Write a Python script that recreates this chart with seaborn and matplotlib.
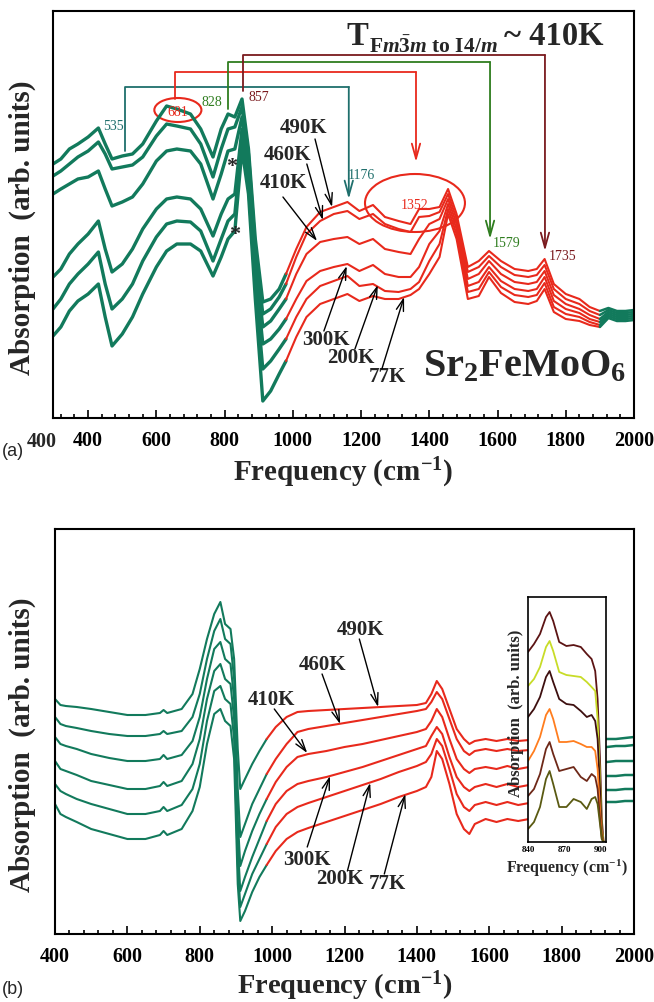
import numpy as np
import pandas as pd
import matplotlib
matplotlib.use("Agg")
import matplotlib.pyplot as plt
import matplotlib.transforms as mtrans
from matplotlib.patches import Ellipse
from matplotlib.ticker import FixedLocator, MultipleLocator
import seaborn as sns

# ---------------- data ----------------
temps = ["490K", "460K", "410K", "300K", "200K", "77K"]

# panel (a): frequency (cm-1) and absorption (arb. units) for each temperature
freq_a = [297, 320, 345, 370, 400, 430, 450, 470, 500, 530, 560, 600, 630, 660, 700, 730,
          766, 790, 810, 830, 851, 870, 890, 912, 935, 960, 980, 1010, 1040, 1080, 1120,
          1160, 1195, 1235, 1270, 1310, 1345, 1370, 1400, 1430, 1455, 1480, 1513, 1545,
          1575, 1610, 1650, 1690, 1715, 1738, 1765, 1800, 1840, 1870, 1900, 1925, 1950,
          1975, 2000]
abs_a_490K = [254, 259, 269, 274, 281, 290, 274, 259, 262, 264, 274, 297, 312, 309, 304, 289,
              261, 289, 304, 301, 319, 269, 179, 116, 119, 129, 144, 169, 191, 206, 211, 216,
              207, 213, 201, 197, 194, 209, 209, 211, 229, 204, 151, 157, 167, 157, 149, 147,
              149, 159, 134, 124, 119, 111, 107, 110, 107, 107, 108]
abs_a_460K = [242, 247, 254, 261, 267, 276, 264, 249, 251, 253, 261, 282, 294, 292, 289, 274,
              241, 269, 289, 291, 311, 264, 169, 104, 109, 121, 134, 161, 184, 197, 204, 207,
              199, 204, 194, 189, 186, 201, 202, 206, 224, 199, 146, 151, 162, 151, 143, 141,
              143, 153, 129, 119, 114, 107, 103, 108, 105, 105, 106]
abs_a_410K = [224, 229, 234, 239, 241, 247, 229, 212, 216, 221, 234, 257, 267, 269, 267, 254,
              219, 244, 267, 269, 301, 254, 159, 91, 97, 109, 119, 144, 164, 176, 179, 181,
              174, 179, 169, 166, 164, 179, 194, 199, 219, 194, 139, 144, 157, 144, 136, 134,
              136, 147, 123, 114, 109, 103, 99, 106, 103, 103, 104]
abs_a_300K = [141, 149, 164, 174, 184, 197, 169, 146, 154, 169, 189, 209, 219, 221, 219, 209,
              182, 204, 219, 224, 289, 244, 147, 74, 79, 89, 99, 119, 137, 147, 151, 154,
              147, 153, 144, 141, 141, 151, 174, 187, 214, 189, 132, 136, 151, 137, 129, 127,
              129, 141, 117, 109, 105, 99, 96, 104, 101, 101, 102]
abs_a_200K = [109, 119, 134, 144, 154, 166, 134, 109, 119, 134, 157, 181, 194, 197, 196, 187,
              157, 179, 197, 204, 279, 234, 134, 49, 57, 69, 79, 101, 119, 132, 137, 142,
              132, 134, 127, 126, 129, 136, 157, 174, 209, 184, 126, 129, 146, 131, 123, 121,
              123, 135, 111, 104, 101, 96, 93, 102, 99, 99, 100]
abs_a_77K = [82, 91, 107, 117, 124, 134, 101, 72, 84, 101, 124, 151, 167, 174, 174, 167,
             142, 161, 179, 187, 269, 224, 119, 17, 27, 44, 57, 81, 101, 114, 119, 124,
             117, 122, 119, 119, 123, 129, 144, 161, 204, 179, 119, 122, 141, 125, 116, 114,
             117, 129, 106, 99, 97, 93, 91, 100, 97, 97, 98]

# panel (b)
freq_b = [400, 415, 430, 460, 500, 550, 600, 650, 690, 700, 710, 750, 780, 800, 820, 840,
          857, 870, 885, 895, 905, 912, 925, 945, 965, 985, 1010, 1040, 1070, 1100, 1150,
          1200, 1250, 1300, 1350, 1400, 1425, 1440, 1455, 1470, 1490, 1510, 1530, 1545,
          1560, 1590, 1620, 1650, 1680, 1710, 1750, 1800, 1850, 1900, 1925, 1950, 1975, 2000]
abs_b_490K = [235, 229, 228, 227, 225, 222, 219, 219, 221, 224, 221, 225, 240, 265, 295, 320,
              332, 310, 305, 275, 185, 145, 155, 170, 183, 195, 207, 217, 222, 223, 224,
              225, 226, 227, 228, 229, 231, 240, 253, 245, 225, 205, 195, 190,
              193, 195, 193, 195, 193, 194, 194, 194, 195, 195, 195, 195, 196, 197]
abs_b_460K = [217, 210, 208, 206, 203, 200, 198, 198, 200, 203, 200, 203, 217, 240, 275, 303,
              315, 295, 290, 255, 145, 97, 110, 130, 145, 160, 175, 190, 202, 205, 208,
              211, 214, 217, 220, 223, 225, 232, 242, 235, 215, 195, 183, 179,
              183, 185, 183, 185, 183, 184, 185, 186, 187, 187, 187, 188, 188, 189]
abs_b_410K = [197, 190, 188, 185, 180, 176, 173, 173, 175, 179, 175, 179, 193, 217, 255, 285,
              292, 275, 270, 235, 115, 68, 83, 103, 120, 135, 152, 167, 177, 180, 183,
              187, 190, 194, 198, 202, 205, 213, 225, 217, 195, 175, 165, 161,
              165, 167, 165, 168, 165, 167, 169, 170, 171, 172, 172, 173, 173, 173]
abs_b_300K = [173, 165, 163, 159, 153, 149, 145, 145, 148, 152, 148, 153, 170, 195, 235, 263,
              270, 255, 250, 215, 90, 43, 57, 77, 95, 113, 130, 143, 150, 153, 157,
              162, 167, 173, 179, 185, 188, 198, 207, 200, 177, 157, 147, 143,
              147, 150, 147, 150, 147, 149, 151, 154, 156, 158, 158, 158, 159, 159]
abs_b_200K = [150, 143, 140, 135, 130, 125, 120, 120, 123, 127, 123, 129, 145, 170, 213, 243,
              248, 235, 230, 195, 70, 27, 40, 60, 75, 90, 107, 120, 127, 131, 137,
              143, 149, 155, 162, 168, 172, 180, 195, 188, 165, 140, 127, 123,
              129, 132, 129, 132, 129, 131, 135, 139, 142, 144, 144, 144, 145, 145]
abs_b_77K = [130, 120, 117, 112, 105, 100, 95, 95, 99, 103, 99, 105, 123, 147, 190, 220,
             225, 213, 208, 175, 50, 13, 23, 42, 57, 69, 83, 95, 102, 106, 112,
             118, 124, 130, 137, 143, 147, 157, 183, 175, 150, 120, 105, 100,
             110, 115, 112, 115, 113, 115, 120, 125, 129, 132, 132, 132, 133, 133]

# inset of panel (b): 840-905 cm-1
freq_in = [840, 845, 850, 855, 858, 861, 866, 872, 878, 884, 889, 893, 896, 898, 900, 901.5, 903]
abs_in_1 = [190, 198, 208, 225, 230, 221, 200, 196, 197, 195, 188, 183, 171, 143, 83, 23, 0]
abs_in_2 = [156, 163, 175, 195, 201, 191, 170, 167, 166, 165, 160, 155, 151, 123, 63, 13, 0]
abs_in_3 = [125, 133, 145, 165, 171, 160, 143, 138, 137, 131, 125, 127, 121, 103, 53, 8, 0]
abs_in_4 = [81, 91, 105, 127, 133, 123, 100, 100, 101, 98, 95, 95, 91, 73, 33, 5, 0]
abs_in_5 = [46, 53, 68, 93, 100, 88, 71, 73, 75, 65, 61, 68, 65, 53, 23, 3, 0]
abs_in_6 = [13, 20, 35, 63, 71, 58, 35, 35, 43, 40, 33, 43, 45, 38, 18, 3, 0]

xticks_main = [400, 600, 800, 1000, 1200, 1400, 1600, 1800, 2000]
xticks_inset = [840, 870, 900]

# mode assignment brackets (panel a)
bracket_colors = ["#1f6f6c", "#e8291c", "#2f7d1f", "#7a1a1e"]
bracket_left_f = [508, 654, 810, 854]
bracket_right_f = [1164, 1361, 1578, 1739]
bracket_level = [331, 346, 356, 363]
bracket_left_end = [267, 319, 309, 327]
bracket_tip = [219, 256, 179, 167]

peak_labels = ["535", "681", "828", "857", "1176", "1352", "1579", "1735"]
peak_label_f = [473, 663, 763, 899, 1202, 1358, 1627, 1792]
peak_label_y = [293, 307, 317, 322, 244, 214, 176, 163]
peak_label_color = [0, 1, 2, 3, 0, 1, 2, 3]

# ---------------- style ----------------
sns.set_theme(style="ticks")
plt.rcParams["font.family"] = ["Liberation Serif", "DejaVu Serif"]
plt.rcParams["font.weight"] = "bold"
plt.rcParams["mathtext.fontset"] = "custom"
plt.rcParams["mathtext.rm"] = "Liberation Serif:bold"
plt.rcParams["mathtext.it"] = "Liberation Serif:italic:bold"
plt.rcParams["mathtext.bf"] = "Liberation Serif:bold"
plt.rcParams["axes.linewidth"] = 1.5

GREEN = "#127a5c"
RED = "#e8291c"

fig = plt.figure(figsize=(6.54, 10.03), dpi=100)
W, H = 654, 1003
axA = fig.add_axes([53 / W, 1 - 419 / H, 581 / W, 407 / H])
axB = fig.add_axes([55 / W, 1 - 935 / H, 579 / W, 405 / H])


def long_df(freq, curves, names):
    return pd.DataFrame({
        "freq": np.tile(np.asarray(freq, float), len(curves)),
        "absorption": np.concatenate([np.asarray(c, float) for c in curves]),
        "T": np.repeat(names, len(freq)),
    })


def draw_segments(ax, df, segs):
    for lo, hi, color, lw in segs:
        sub = df[(df["freq"] >= lo) & (df["freq"] <= hi)]
        sns.lineplot(data=sub, x="freq", y="absorption", units="T", estimator=None,
                     color=color, lw=lw, ax=ax, legend=False, sort=False)


dfA = long_df(freq_a, [abs_a_490K, abs_a_460K, abs_a_410K, abs_a_300K, abs_a_200K, abs_a_77K], temps)
dfB = long_df(freq_b, [abs_b_490K, abs_b_460K, abs_b_410K, abs_b_300K, abs_b_200K, abs_b_77K], temps)

draw_segments(axA, dfA, [(0, 980, GREEN, 2.4), (980, 1900, RED, 1.5), (1900, 2100, GREEN, 1.8)])
draw_segments(axB, dfB, [(0, 985, GREEN, 1.5), (985, 1900, RED, 1.5), (1900, 2100, GREEN, 1.8)])


def style_main(ax, xlim, ylim):
    ax.set_xlim(*xlim)
    ax.set_ylim(*ylim)
    ax.set_yticks([])
    ax.xaxis.set_major_locator(FixedLocator(xticks_main))
    ax.set_xticklabels([str(t) for t in xticks_main])
    ax.xaxis.set_minor_locator(MultipleLocator(40))
    ax.tick_params(axis="x", which="both", direction="in", top=False, bottom=True,
                   colors="black", labelsize=14.5, pad=9, width=1.2)
    ax.tick_params(axis="x", which="major", length=6)
    ax.tick_params(axis="x", which="minor", length=3)
    for s in ax.spines.values():
        s.set_visible(True)
        s.set_color("black")
        s.set_linewidth(1.5)
    ax.set_xlabel(r"Frequency (cm$^{-1}$)", fontsize=21, fontweight="bold", va="top")
    ax.set_ylabel("Absorption  (arb. units)", fontsize=21, fontweight="bold", va="center")


style_main(axA, (297, 2000), (0, 407))
style_main(axB, (400, 2000), (0, 405))
axA.xaxis.set_label_coords(0.5, -0.090)
axA.yaxis.set_label_coords(-0.053, 0.47)
axB.xaxis.set_label_coords(0.5, -0.082)
axB.xaxis.label.set_fontsize(20.5)
axB.yaxis.set_label_coords(-0.057, 0.47)

# extra "400" tick label at the far left of panel (a), as in the original
axA.text(265, -0.057, "400", transform=mtrans.blended_transform_factory(axA.transData, axA.transAxes),
         ha="center", va="center", fontsize=14.5, fontweight="bold")

# ---------- panel (a) annotations ----------
for c, lf, rf, lev, le, tip in zip(bracket_colors, bracket_left_f, bracket_right_f,
                                    bracket_level, bracket_left_end, bracket_tip):
    axA.plot([lf, lf, rf], [le, lev, lev], color=c, lw=1.3)
    axA.annotate("", xy=(rf, tip), xytext=(rf, lev),
                 arrowprops=dict(arrowstyle="->,head_length=0.9,head_width=0.25",
                                 color=c, lw=1.3, shrinkA=0, shrinkB=0))
for t, f, y, ci in zip(peak_labels, peak_label_f, peak_label_y, peak_label_color):
    axA.text(f, y, t, color=bracket_colors[ci], fontsize=10, fontweight="normal",
             ha="center", va="center")
axA.add_patch(Ellipse((663, 308), 138, 24, fill=False, edgecolor=RED, lw=1.5))
axA.add_patch(Ellipse((1358, 215), 293, 58, fill=False, edgecolor=RED, lw=1.5))
axA.text(822, 252, "*", fontsize=16, ha="center", va="center")
axA.text(830, 184, "*", fontsize=16, ha="center", va="center")

arrow_kw = dict(arrowstyle="->,head_length=0.7,head_width=0.22", color="black", lw=1.0,
                shrinkA=0, shrinkB=0)
labA = [("490K", 1030, 291, 1065, 279, 1115, 211),
        ("460K", 983, 264, 1041, 254, 1088, 198),
        ("410K", 971, 236, 971, 221, 1071, 177),
        ("300K", 1097, 79, 1091, 87, 1158, 152),
        ("200K", 1170, 61, 1182, 69, 1249, 133),
        ("77K", 1276, 42, 1261, 49, 1326, 121)]
for t, tx, ty, ax0, ay0, ax1, ay1 in labA:
    axA.text(tx, ty, t, fontsize=15, ha="center", va="center")
    axA.annotate("", xy=(ax1, ay1), xytext=(ax0, ay0), arrowprops=arrow_kw)

axA.text(1680, 52, r"Sr$_2$FeMoO$_6$", fontsize=29, ha="center", va="center")
axA.text(1158, 374, "T", fontsize=23.5, ha="left", va="baseline")
axA.text(1222, 366, r"F$m\bar{3}m$ to I4/$m$", fontsize=15.5, ha="left", va="baseline")
axA.text(1912, 374, "~ 410K", fontsize=23.5, ha="right", va="baseline")

# ---------- panel (b) annotations ----------
labB = [("490K", 1243, 305, 1241, 295, 1293, 227),
        ("460K", 1138, 270, 1138, 260, 1188, 210),
        ("410K", 997, 235, 1006, 225, 1097, 181),
        ("300K", 1097, 75, 1097, 87, 1160, 158),
        ("200K", 1188, 56, 1208, 63, 1271, 151),
        ("77K", 1318, 51, 1310, 60, 1368, 140)]
for t, tx, ty, ax0, ay0, ax1, ay1 in labB:
    axB.text(tx, ty, t, fontsize=15, ha="center", va="center")
    axB.annotate("", xy=(ax1, ay1), xytext=(ax0, ay0), arrowprops=arrow_kw)

# ---------- inset ----------
inset = fig.add_axes([528 / W, 1 - 843 / H, 78 / W, 245 / H])
inset.set_facecolor("white")
inset_colors = ["#5c1414", "#c8dc28", "#3d0f0f", "#ff7d1e", "#6e2818", "#5a5a12"]
dfI = long_df(freq_in, [abs_in_1, abs_in_2, abs_in_3, abs_in_4, abs_in_5, abs_in_6], temps)
sns.lineplot(data=dfI, x="freq", y="absorption", hue="T", hue_order=temps,
             palette=inset_colors, estimator=None, legend=False, lw=1.3, ax=inset, sort=False)
inset.set_xlim(840, 905)
inset.set_ylim(0, 245)
inset.set_yticks([])
inset.set_xticks(xticks_inset)
inset.set_xticklabels([str(t) for t in xticks_inset])
inset.tick_params(axis="x", length=0, pad=2, labelsize=6.5, colors="black")
for s in inset.spines.values():
    s.set_visible(True)
    s.set_color("black")
    s.set_linewidth(1.2)
inset.set_xlabel(r"Frequency (cm$^{-1}$)", fontsize=11.5, fontweight="bold", va="top")
inset.set_ylabel("Absorption  (arb. units)", fontsize=12, fontweight="bold", va="center")
inset.xaxis.set_label_coords(0.5, -0.058)
inset.yaxis.set_label_coords(-0.15, 0.53)

# panel letters
fig.text(2 / W, 1 - 452 / H, "(a)", fontsize=13, family="Liberation Sans", fontweight="normal",
         ha="left", va="center")
fig.text(2 / W, 1 - 990 / H, "(b)", fontsize=13, family="Liberation Sans", fontweight="normal",
         ha="left", va="center")

fig.savefig("out.png", dpi=100)
